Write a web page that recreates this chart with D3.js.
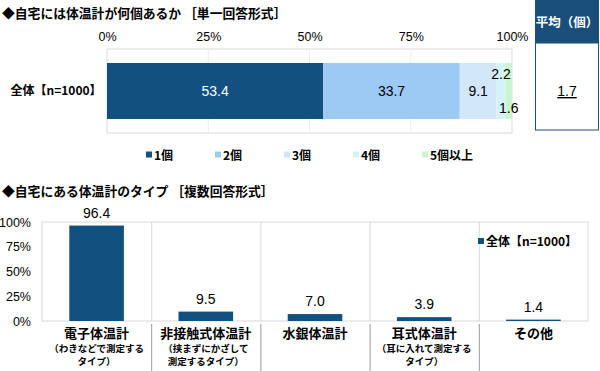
<!DOCTYPE html>
<html>
<head>
<meta charset="utf-8">
<script src="https://cdn.jsdelivr.net/npm/d3@7"></script>
<style>
  body { margin: 0; background: #fff; }
  svg { display: block; font-family: "Liberation Sans", "Noto Sans CJK JP", sans-serif; }
  .jp { font-family: "Noto Sans CJK JP", sans-serif; font-weight: bold; }
</style>
</head>
<body>
<div id="chart"></div>
<script>
// --- top chart data (single answer) ---
const countKeys = ["1個", "2個", "3個", "4個", "5個以上"];
const countValues = [53.4, 33.7, 9.1, 2.2, 1.6];
const countColors = ["#12507f", "#9ccaf4", "#d2e8fa", "#d3f3f9", "#cdf4cd"];
const topRowLabel = "全体【n=1000】";
const topTicks = [0, 25, 50, 75, 100];
const averageValue = "1.7";

// --- bottom chart data (multiple answers) ---
const typeNames = ["電子体温計", "非接触式体温計", "水銀体温計", "耳式体温計", "その他"];
const typeNotes = [
  ["（わきなどで測定する", "タイプ）"],
  ["（挟まずにかざして", "測定するタイプ）"],
  [],
  ["（耳に入れて測定する", "タイプ）"],
  []
];
const typeValues = [96.4, 9.5, 7.0, 3.9, 1.4];
const bottomTicks = [0, 25, 50, 75, 100];
const seriesName = "全体【n=1000】";

const W = 600, H = 371;
const navy = "#12507f";
const gridCol = "#d9d9d9";

const svg = d3.select("#chart").append("svg")
  .attr("width", W)
  .attr("height", H);

// ================= top chart =================
svg.append("text").attr("class", "jp")
  .attr("x", 2).attr("y", 18)
  .attr("font-size", 12.8)
  .text("◆自宅には体温計が何個あるか ［単一回答形式］");

const x = d3.scaleLinear().domain([0, 100]).range([107, 512]);
const barY = 63, barH = 56;

// plot box
svg.append("rect")
  .attr("x", x(0)).attr("y", 49)
  .attr("width", x(100) - x(0)).attr("height", 84)
  .attr("fill", "none").attr("stroke", gridCol);

svg.append("g").selectAll("line")
  .data(topTicks.slice(1, -1))
  .join("line")
  .attr("x1", d => x(d)).attr("x2", d => x(d))
  .attr("y1", 49).attr("y2", 133)
  .attr("stroke", "#ececec");

// tick labels on top
const topAxis = svg.append("g")
  .attr("transform", "translate(0,44)")
  .call(d3.axisTop(x).tickValues(topTicks).tickFormat(d => d + "%").tickSize(0));
topAxis.select(".domain").remove();
topAxis.selectAll("text")
  .attr("font-family", "Liberation Sans, sans-serif")
  .attr("font-size", 12.5).attr("fill", "#000");

svg.append("text").attr("class", "jp")
  .attr("x", 56).attr("y", barY + barH / 2 + 4)
  .attr("text-anchor", "middle")
  .attr("font-size", 12)
  .text(topRowLabel);

// stacked segments
let acc = 0;
const segs = countValues.map((v, i) => {
  const s = { key: countKeys[i], v: v, x0: acc, x1: acc + v, color: countColors[i] };
  acc += v;
  return s;
});

svg.append("g").selectAll("rect")
  .data(segs)
  .join("rect")
  .attr("x", d => x(d.x0))
  .attr("y", barY)
  .attr("width", d => x(d.x1) - x(d.x0))
  .attr("height", barH)
  .attr("fill", d => d.color);

svg.append("g").selectAll("text")
  .data(segs)
  .join("text")
  .attr("x", d => x((d.x0 + d.x1) / 2))
  .attr("y", (d, i) => barY + barH / 2 + 5 + (i === 3 ? -17 : i === 4 ? 17 : 0))
  .attr("text-anchor", "middle")
  .attr("font-size", 14)
  .attr("fill", (d, i) => i === 0 ? "#fff" : "#000")
  .text(d => d3.format(".1f")(d.v));

// legend
const leg = svg.append("g").selectAll("g")
  .data(segs)
  .join("g")
  .attr("transform", (d, i) => `translate(${146 + i * 69},155)`);
leg.append("rect")
  .attr("x", 0).attr("y", -3.5).attr("width", 6).attr("height", 6)
  .attr("fill", d => d.color);
leg.append("text").attr("class", "jp")
  .attr("x", 8).attr("y", 4.5)
  .attr("font-size", 12)
  .text(d => d.key);

// average box
svg.append("rect")
  .attr("x", 535.5).attr("y", 0.5)
  .attr("width", 63).attr("height", 129.5)
  .attr("fill", "#fff").attr("stroke", "#1f4f78");
svg.append("rect")
  .attr("x", 535.5).attr("y", 0.5)
  .attr("width", 63).attr("height", 43)
  .attr("fill", "#1a4e7b");
svg.append("text").attr("class", "jp")
  .attr("x", 567).attr("y", 27)
  .attr("text-anchor", "middle")
  .attr("fill", "#fff").attr("font-size", 12.5)
  .text("平均（個）");
svg.append("text")
  .attr("x", 567).attr("y", 96)
  .attr("text-anchor", "middle")
  .attr("font-size", 14)
  .attr("text-decoration", "underline")
  .text(averageValue);

// ================= bottom chart =================
svg.append("text").attr("class", "jp")
  .attr("x", 2).attr("y", 196)
  .attr("font-size", 12.8)
  .text("◆自宅にある体温計のタイプ ［複数回答形式］");

const xb = d3.scaleBand().domain(typeNames).range([42, 588]).padding(0);
const y = d3.scaleLinear().domain([0, 100]).range([321, 222]);

svg.append("rect")
  .attr("x", 42).attr("y", 222)
  .attr("width", 546).attr("height", 99)
  .attr("fill", "none").attr("stroke", gridCol);

// category dividers inside plot and below the axis
svg.append("g").selectAll("line")
  .data(typeNames.slice(1))
  .join("line")
  .attr("x1", d => xb(d) + 0.5).attr("x2", d => xb(d) + 0.5)
  .attr("y1", 222).attr("y2", 321)
  .attr("stroke", gridCol);
svg.append("g").selectAll("line")
  .data(typeNames.slice(1))
  .join("line")
  .attr("x1", d => xb(d) + 0.5).attr("x2", d => xb(d) + 0.5)
  .attr("y1", 324).attr("y2", 371)
  .attr("stroke", "#9a9a9a");

const yAxis = svg.append("g")
  .attr("transform", "translate(34,0)")
  .call(d3.axisLeft(y).tickValues(bottomTicks).tickFormat(d => d + "%").tickSize(0));
yAxis.select(".domain").remove();
yAxis.selectAll("text")
  .attr("font-family", "Liberation Sans, sans-serif")
  .attr("font-size", 12.5).attr("fill", "#000");

const bw = xb.bandwidth() * 0.5;
svg.append("g").selectAll("rect")
  .data(typeValues)
  .join("rect")
  .attr("x", (d, i) => xb(typeNames[i]) + (xb.bandwidth() - bw) / 2)
  .attr("y", d => y(d))
  .attr("width", bw)
  .attr("height", d => y(0) - y(d))
  .attr("fill", navy);

svg.append("g").selectAll("text")
  .data(typeValues)
  .join("text")
  .attr("x", (d, i) => xb(typeNames[i]) + xb.bandwidth() / 2)
  .attr("y", d => y(d) - 8)
  .attr("text-anchor", "middle")
  .attr("font-size", 14)
  .text(d => d3.format(".1f")(d));

// category labels
const cat = svg.append("g").selectAll("g")
  .data(typeNames)
  .join("g")
  .attr("transform", d => `translate(${xb(d) + xb.bandwidth() / 2},0)`);
cat.append("text").attr("class", "jp")
  .attr("y", 338)
  .attr("text-anchor", "middle")
  .attr("font-size", 13)
  .text(d => d);
cat.each(function(d, i) {
  d3.select(this).selectAll("text.note")
    .data(typeNotes[i])
    .join("text")
    .attr("class", "note jp")
    .attr("y", (t, j) => 352 + j * 13)
    .attr("text-anchor", "middle")
    .attr("font-size", 9.5)
    .text(t => t);
});

// series legend
svg.append("rect")
  .attr("x", 478).attr("y", 238).attr("width", 6).attr("height", 6)
  .attr("fill", navy);
svg.append("text").attr("class", "jp")
  .attr("x", 486).attr("y", 245.5)
  .attr("font-size", 12)
  .text(seriesName);
</script>
</body>
</html>
